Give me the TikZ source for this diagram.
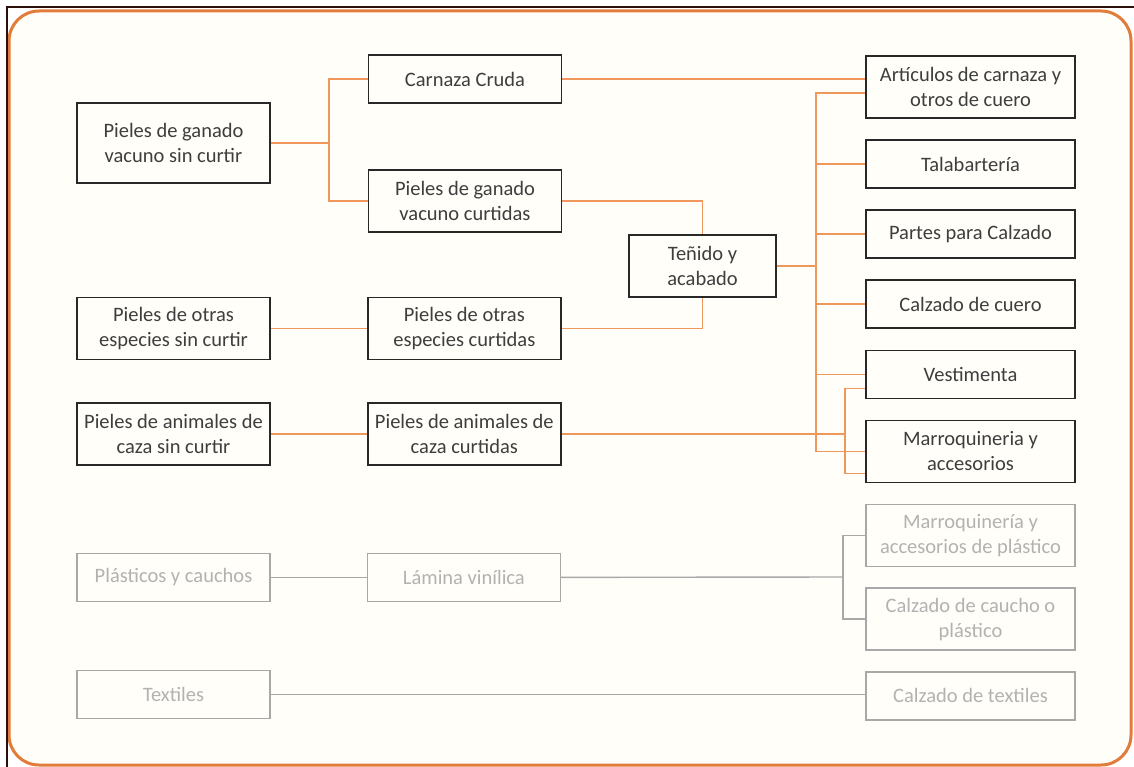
\documentclass[tikz,border=0pt]{standalone}
\usepackage{fontspec}
\setmainfont{Carlito}
\usetikzlibrary{positioning}

\definecolor{ink}{RGB}{62,62,62}
\definecolor{boxline}{RGB}{40,40,40}
\definecolor{linkorange}{RGB}{240,152,92}
\definecolor{frameorange}{RGB}{226,124,58}
\definecolor{faintline}{RGB}{168,168,168}
\definecolor{fainttext}{RGB}{178,178,178}
\definecolor{ivory}{RGB}{255,254,249}
\definecolor{edgedark}{RGB}{45,15,10}

\begin{document}
\begin{tikzpicture} [x=1pt, y=-1pt,
		every node/.style={inner sep=3pt, node distance=20.3pt, minimum height=48pt,
			font=\fontsize{20.5}{25}\selectfont, align=center, rectangle},
		box/.style={draw=boxline, line width=1.8pt, text=ink, minimum width=193pt},
		widebox/.style={box, minimum width=209pt},
		faint/.style={draw=faintline, line width=1.4pt, text=fainttext},
		link/.style={draw=linkorange, line width=1.8pt},
		flink/.style={draw=faintline, line width=1.4pt}
	]
	\useasboundingbox (0,0) rectangle (1134,767);
	\fill[white] (0,0) rectangle (1134,767);
	\draw[frameorange, line width=3pt, rounded corners=30pt, fill=ivory] (9,11) rectangle (1131,765);
	\draw[edgedark, line width=2pt] (7,767) -- (7,7) -- (1134,7);

	% leather chain
	\node (vacsc) [box, minimum height=80pt] at (173.5,143) {Pieles de ganado\\vacuno sin curtir};
	\node (otrassc) [box, minimum height=62pt] at (173.5,328.5) {Pieles de otras\\especies sin curtir};
	\node (cazasc) [box, minimum height=62pt] at (173.5,434) {Pieles de animales de\\caza sin curtir};

	\node (carnaza) [box] at (465,79) {Carnaza Cruda};
	\node (vaccu) [box, minimum height=62pt] at (465,201) {Pieles de ganado\\vacuno curtidas};
	\node (otrascu) [box, minimum height=62pt, right=96pt of otrassc] {Pieles de otras\\especies curtidas};
	\node (cazacu) [box, minimum height=62pt, right=96pt of cazasc] {Pieles de animales de\\caza curtidas};

	\node (tenido) [box, minimum width=147pt, minimum height=62pt] at (702.5,266) {Teñido y\\acabado};

	\node (artic) [widebox, minimum height=62pt] at (970.5,87) {Artículos de carnaza y\\otros de cuero};
	\node (talab) [widebox, below=of artic] {Talabartería};
	\node (partes) [widebox, below=of talab] {Partes para Calzado};
	\node (calz) [widebox, below=of partes] {Calzado de cuero};
	\node (vest) [widebox, below=of calz] {Vestimenta};
	\node (marroq) [widebox, minimum height=62pt, below=of vest] {Marroquineria y\\accesorios};

	% other materials
	\node (plast) [box, faint] at (173.5,577.5) {Plásticos y cauchos};
	\node (lamina) [box, faint, right=96pt of plast] {Lámina vinílica};
	\node (textil) [box, faint] at (173.5,694.5) {Textiles};

	\node (marrpl) [widebox, faint, minimum height=62pt, below=of marroq] {Marroquinería y\\accesorios de plástico};
	\node (calzpl) [widebox, faint, minimum height=62pt, below=of marrpl] {Calzado de caucho o\\plástico};
	\node (calztx) [widebox, faint, below=of calzpl] {Calzado de textiles};

	\coordinate (jA) at (329,143);
	\coordinate (bus) at (816,0);
	\coordinate (jB) at (845,434);
	\coordinate (jC) at (843,577);

	\draw[link] (vacsc) -- (jA);
	\draw[link] (carnaza.west) -| (jA) |- (vaccu.west);
	\draw[link] (carnaza.east) -- (carnaza.east -| artic.west);
	\draw[link] (vaccu.east) -| (tenido.north);
	\draw[link] (otrascu.east) -| (tenido.south);
	\draw[link] (otrassc) -- (otrascu);
	\draw[link] (cazasc) -- (cazacu);

	\draw[link] (tenido.east) -- (tenido.east -| bus);
	\draw[link] ([yshift=-6pt]artic.west) -| (bus |- marroq.west) -- (marroq.west);
	\foreach \n in {talab, partes, calz, vest}
		\draw[link] (\n.west -| bus) -- (\n.west);

	\draw[link] (cazacu) -- (jB);
	\draw[link] ([yshift=-14pt]vest.west) -| (jB) |- ([yshift=-22pt]marroq.west);

	\draw[flink] (plast) -- (lamina);
	\draw[flink] (lamina) -- (jC);
	\draw[flink] (marrpl.west) -| (jC) |- (calzpl.west);
	\draw[flink] (textil) -- (textil -| calztx.west);

\end{tikzpicture}
\end{document}
